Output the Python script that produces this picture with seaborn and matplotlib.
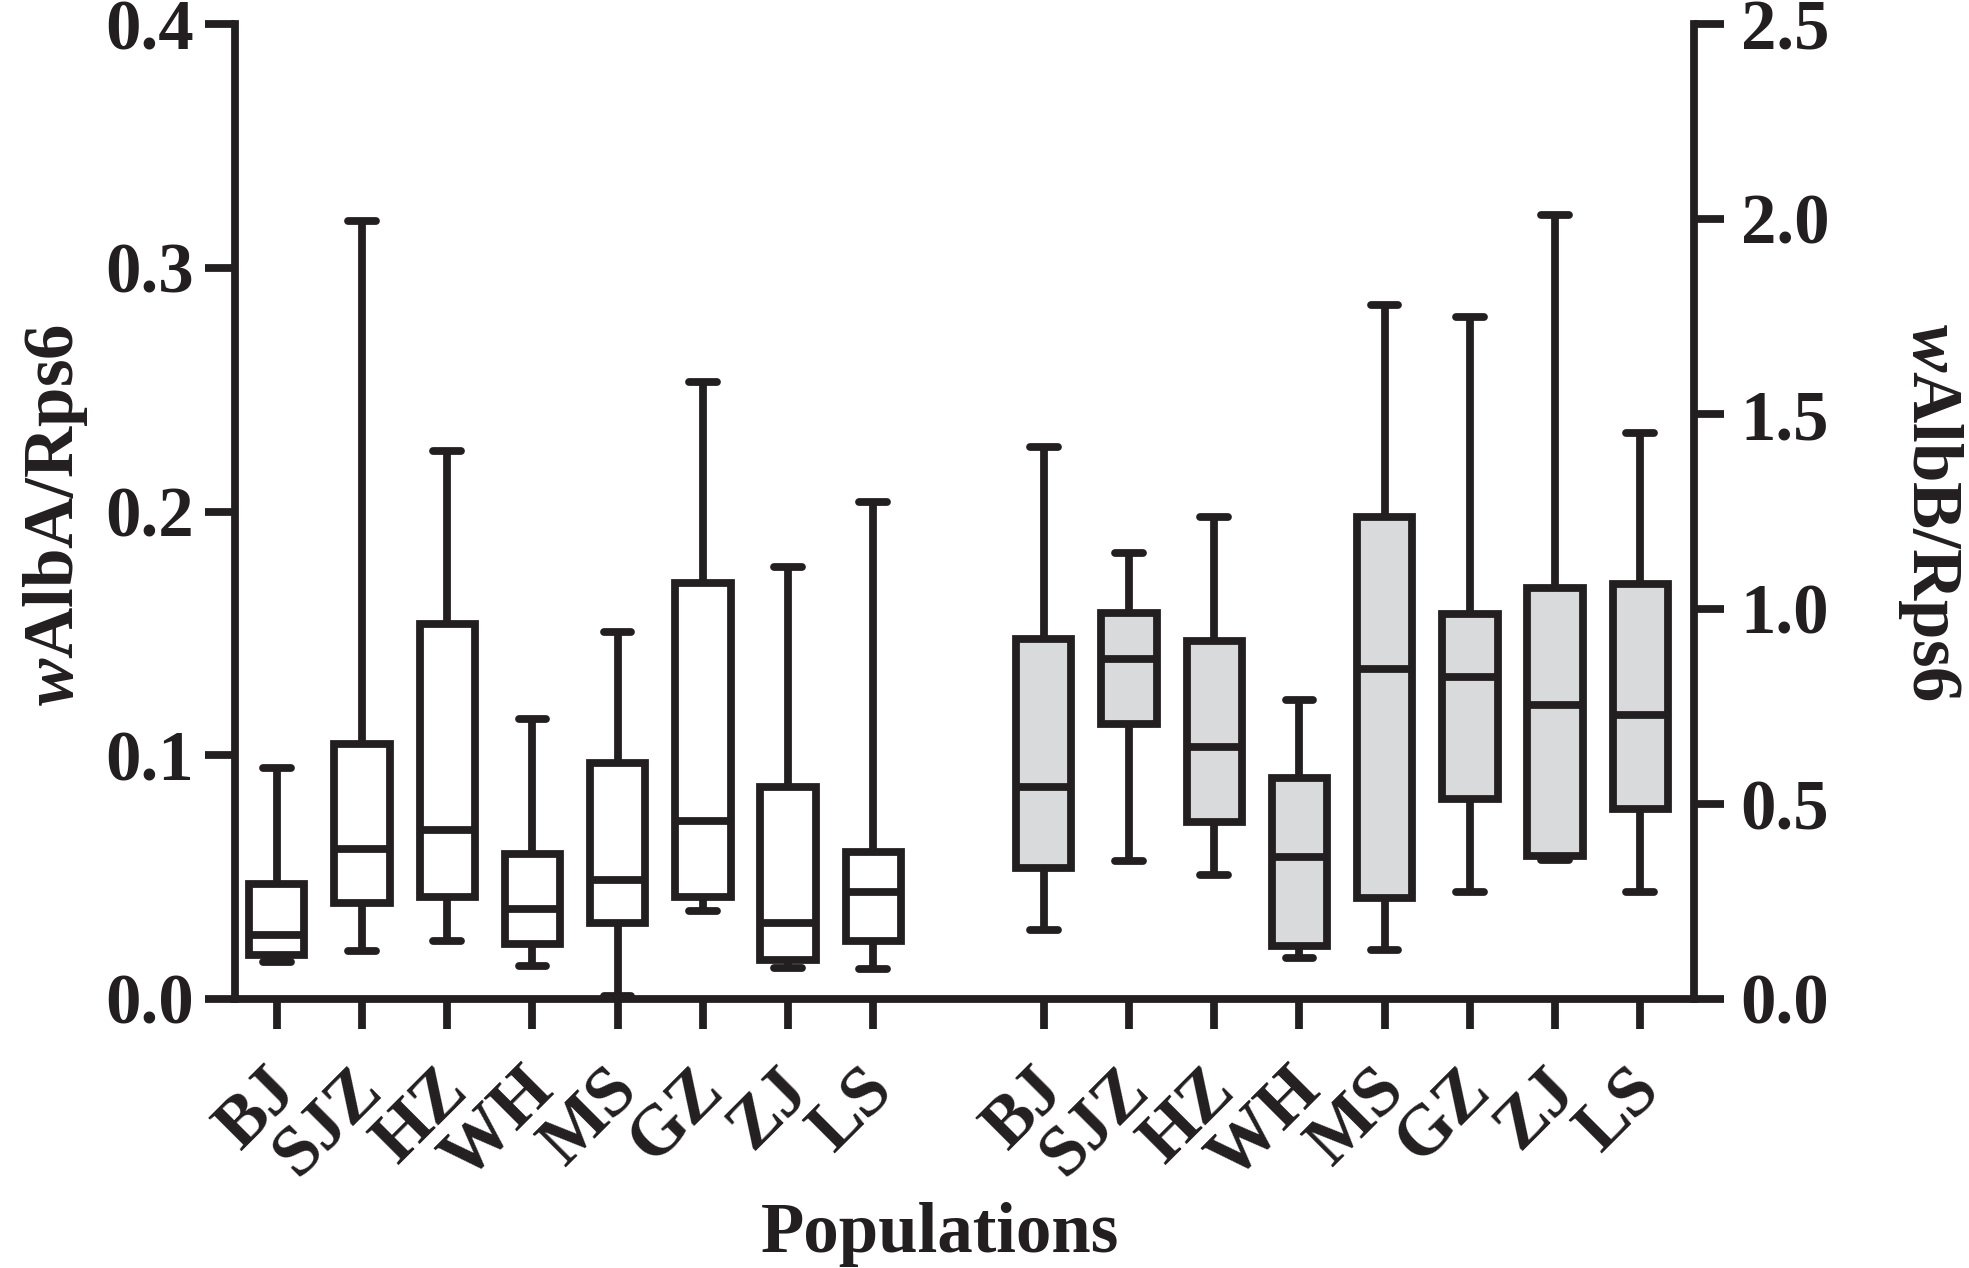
import numpy as np
import pandas as pd
import matplotlib
matplotlib.use("Agg")
import matplotlib.pyplot as plt
import matplotlib.transforms as mtransforms
import seaborn as sns

populations = ["BJ", "SJZ", "HZ", "WH", "MS", "GZ", "ZJ", "LS"]

# wAlbA/Rps6 five-number summaries (left axis)
albA_min = [0.0153, 0.0196, 0.0236, 0.0137, 0.0014, 0.0360, 0.0126, 0.0123]
albA_q1 = [0.0182, 0.0395, 0.0420, 0.0226, 0.0312, 0.0418, 0.0158, 0.0236]
albA_med = [0.0264, 0.0616, 0.0692, 0.0370, 0.0489, 0.0730, 0.0311, 0.0441]
albA_q3 = [0.0470, 0.1045, 0.1538, 0.0596, 0.0970, 0.1705, 0.0870, 0.0603]
albA_max = [0.0949, 0.3190, 0.2250, 0.1148, 0.1504, 0.2530, 0.1774, 0.2040]

# wAlbB/Rps6 five-number summaries (right axis)
albB_min = [0.178, 0.353, 0.317, 0.104, 0.125, 0.274, 0.356, 0.274]
albB_q1 = [0.337, 0.706, 0.454, 0.137, 0.259, 0.513, 0.366, 0.486]
albB_med = [0.544, 0.872, 0.647, 0.363, 0.847, 0.826, 0.755, 0.727]
albB_q3 = [0.922, 0.991, 0.917, 0.566, 1.235, 0.986, 1.055, 1.064]
albB_max = [1.415, 1.143, 1.235, 0.767, 1.780, 1.750, 2.010, 1.451]

left_ticks = [0.0, 0.1, 0.2, 0.3, 0.4]
right_ticks = [0.0, 0.5, 1.0, 1.5, 2.0, 2.5]

sns.set_theme(style="ticks")
plt.rcParams["font.family"] = ["Liberation Serif", "DejaVu Serif"]
plt.rcParams["font.weight"] = "bold"
plt.rcParams["mathtext.fontset"] = "custom"
plt.rcParams["mathtext.it"] = "Liberation Serif:italic:bold"
plt.rcParams["mathtext.rm"] = "Liberation Serif:bold"

INK = "#231f20"
FS = 51
LW = 5.6


def long_frame(mins, q1, med, q3, mx, offset):
    rows = []
    for i, _ in enumerate(populations):
        for v in (mins[i], q1[i], med[i], q3[i], mx[i]):
            rows.append({"pos": i + offset, "value": v})
    return pd.DataFrame(rows)


n = len(populations)
posA = np.arange(n)
posB = np.arange(n) + n + 1
dfA = long_frame(albA_min, albA_q1, albA_med, albA_q3, albA_max, 0)
dfB = long_frame(albB_min, albB_q1, albB_med, albB_q3, albB_max, n + 1)

fig = plt.figure(figsize=(19.69, 12.68), dpi=100)
L, R, B, T = 235 / 1969, 1694 / 1969, 1 - 999 / 1268, 1 - 24 / 1268
ax = fig.add_axes([L, B, R - L, T - B])
ax2 = ax.twinx()

common = dict(x="pos", y="value", native_scale=True, width=0.65, whis=np.inf,
              linewidth=LW, linecolor=INK, saturation=1,
              capprops=dict(solid_capstyle="round"),
              whiskerprops=dict(solid_capstyle="butt"))
sns.boxplot(data=dfA, ax=ax, color="white", **common)
sns.boxplot(data=dfB, ax=ax2, color="#d9dadc", **common)

ax.set_xlim(-0.49, 16.63)
ax.set_ylim(0, 0.4)
ax2.set_ylim(0, 2.5)

ax.set_yticks(left_ticks, [f"{t:.1f}" for t in left_ticks])
ax2.set_yticks(right_ticks, [f"{t:.1f}" for t in right_ticks])
ax.set_xticks(list(posA) + list(posB), populations + populations)

ax.tick_params(axis="both", direction="out", length=21.6, width=LW, color=INK,
               labelsize=FS, labelcolor=INK)
ax.tick_params(axis="y", pad=8)
ax.tick_params(axis="x", pad=20)
ax2.tick_params(axis="y", direction="out", length=21.6, width=LW, color=INK,
                labelsize=FS, labelcolor=INK, pad=12)

shift = mtransforms.ScaledTranslation(24 / 72, 0, fig.dpi_scale_trans)
for lab in ax.get_xticklabels():
    lab.set_rotation(45)
    lab.set_ha("right")
    lab.set_va("top")
    lab.set_transform(lab.get_transform() + shift)

for s in ["top", "right"]:
    ax.spines[s].set_visible(False)
for s in ["top", "left", "bottom"]:
    ax2.spines[s].set_visible(False)
for s in ["left", "bottom"]:
    ax.spines[s].set_linewidth(LW)
    ax.spines[s].set_color(INK)
ax2.spines["right"].set_linewidth(LW)
ax2.spines["right"].set_color(INK)

ax.set_xlabel("")
ax.set_ylabel("")
ax2.set_ylabel("")

fig.text(56 / 1969, 0.594, r"$\mathit{w}$AlbA/Rps6", rotation=90, ha="center",
         va="center", fontsize=FS, fontweight="bold", color=INK)
fig.text(1930 / 1969, 0.596, r"$\mathit{w}$AlbB/Rps6", rotation=270, ha="center",
         va="center", fontsize=FS, fontweight="bold", color=INK)
fig.text(940 / 1969, 1 - 1252 / 1268, "Populations", ha="center", va="baseline",
         fontsize=FS, fontweight="bold", color=INK)

fig.savefig("out.png", dpi=100, facecolor="white")
